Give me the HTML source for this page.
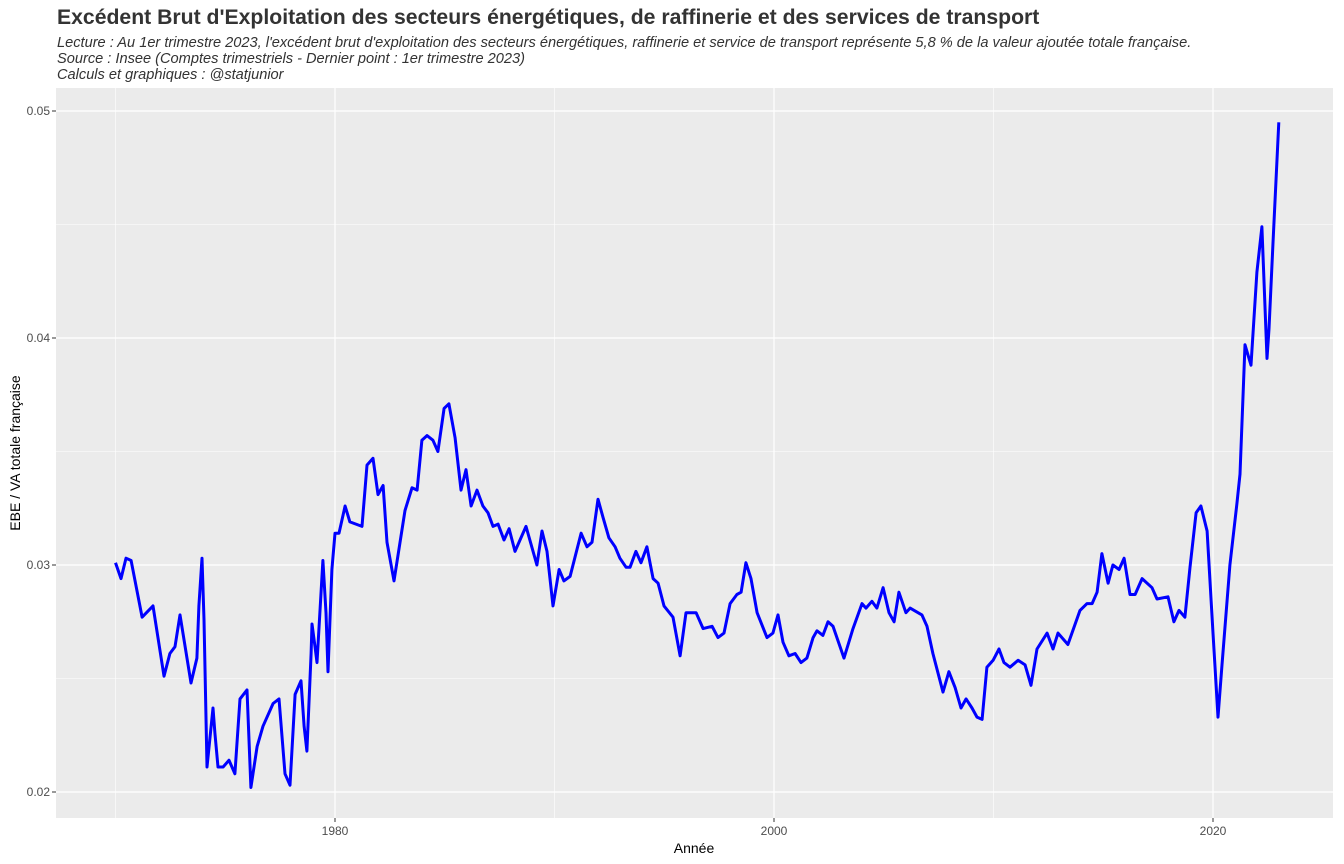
<!DOCTYPE html>
<html><head><meta charset="utf-8"><style>
body{margin:0;background:#fff;}
svg{display:block;font-family:"Liberation Sans",Arial,sans-serif;}
</style></head><body>
<svg id="chart" width="1344" height="864" viewBox="0 0 1344 864" xmlns="http://www.w3.org/2000/svg">
<rect width="1344" height="864" fill="#fff"/>
<text x="57" y="24" font-size="21.2" font-weight="bold" fill="#333">Excédent Brut d'Exploitation des secteurs énergétiques, de raffinerie et des services de transport</text>
<text x="57" y="47" font-size="14.6" font-style="italic" fill="#333">Lecture : Au 1er trimestre 2023, l'excédent brut d'exploitation des secteurs énergétiques, raffinerie et service de transport représente 5,8 % de la valeur ajoutée totale française.</text>
<text x="57" y="63" font-size="14.6" font-style="italic" fill="#333">Source : Insee (Comptes trimestriels - Dernier point : 1er trimestre 2023)</text>
<text x="57" y="79" font-size="14.6" font-style="italic" fill="#333">Calculs et graphiques : @statjunior</text>
<rect x="56" y="88" width="1277" height="730" fill="#ebebeb"/>
<g id="grid"></g>
<g id="axes"></g>
<path id="line" fill="none" stroke="#0000ff" stroke-width="3" stroke-linejoin="round"/>
<text x="694" y="853" font-size="14" text-anchor="middle" fill="#000">Année</text>
<text transform="translate(20,453) rotate(-90)" font-size="14" text-anchor="middle" fill="#000">EBE / VA totale française</text>
</svg>
<script>
const years = [1970,1970.25,1970.48,1970.71,1971.21,1971.71,1972.21,1972.48,1972.71,1972.94,1973.44,1973.71,1973.8,1973.94,1974.03,1974.17,1974.44,1974.53,1974.67,1974.9,1975.17,1975.44,1975.67,1975.99,1976.17,1976.45,1976.72,1977.18,1977.45,1977.72,1977.95,1978.18,1978.45,1978.59,1978.72,1978.91,1978.95,1979.09,1979.18,1979.45,1979.59,1979.68,1979.86,1980,1980.18,1980.46,1980.68,1981.23,1981.46,1981.73,1981.96,1982.19,1982.37,1982.69,1983.19,1983.51,1983.74,1983.96,1984.19,1984.46,1984.69,1984.97,1985.19,1985.47,1985.74,1985.97,1986.2,1986.47,1986.74,1986.97,1987.2,1987.43,1987.7,1987.93,1988.2,1988.7,1989.2,1989.43,1989.66,1989.93,1990.21,1990.43,1990.71,1991.21,1991.48,1991.71,1991.98,1992.21,1992.48,1992.76,1992.98,1993.26,1993.44,1993.71,1993.94,1994.21,1994.49,1994.72,1994.99,1995.4,1995.72,1995.99,1996.45,1996.77,1997.18,1997.45,1997.72,1998,1998.31,1998.5,1998.72,1998.95,1999.23,1999.68,1999.95,2000.18,2000.41,2000.68,2000.96,2001.23,2001.5,2001.78,2001.96,2002.23,2002.46,2002.69,2003.19,2003.6,2004.01,2004.19,2004.46,2004.69,2004.97,2005.24,2005.47,2005.69,2006.01,2006.2,2006.74,2006.97,2007.24,2007.7,2007.97,2008.25,2008.52,2008.75,2009.02,2009.25,2009.48,2009.7,2009.98,2010.25,2010.48,2010.75,2011.12,2011.44,2011.71,2011.98,2012.44,2012.71,2012.94,2013.39,2013.94,2014.26,2014.49,2014.72,2014.94,2015.22,2015.44,2015.72,2015.95,2016.22,2016.45,2016.77,2017.22,2017.45,2017.95,2018.22,2018.45,2018.72,2018.95,2019.23,2019.45,2019.73,2020,2020.23,2020.41,2020.77,2021.09,2021.23,2021.46,2021.73,2022,2022.23,2022.46,2022.55,2022.73,2023];
const values = [0.0301,0.0294,0.0303,0.0302,0.0277,0.0282,0.0251,0.0261,0.0264,0.0278,0.0248,0.0259,0.0282,0.0303,0.0276,0.0211,0.0237,0.0226,0.0211,0.0211,0.0214,0.0208,0.0241,0.0245,0.0202,0.0220,0.0229,0.0239,0.0241,0.0208,0.0203,0.0243,0.0249,0.0229,0.0218,0.0261,0.0274,0.0264,0.0257,0.0302,0.0279,0.0253,0.0298,0.0314,0.0314,0.0326,0.0319,0.0317,0.0344,0.0347,0.0331,0.0335,0.0310,0.0293,0.0324,0.0334,0.0333,0.0355,0.0357,0.0355,0.0350,0.0369,0.0371,0.0356,0.0333,0.0342,0.0326,0.0333,0.0326,0.0323,0.0317,0.0318,0.0311,0.0316,0.0306,0.0317,0.0300,0.0315,0.0306,0.0282,0.0298,0.0293,0.0295,0.0314,0.0308,0.0310,0.0329,0.0321,0.0312,0.0308,0.0303,0.0299,0.0299,0.0306,0.0301,0.0308,0.0294,0.0292,0.0282,0.0277,0.0260,0.0279,0.0279,0.0272,0.0273,0.0268,0.0270,0.0283,0.0287,0.0288,0.0301,0.0294,0.0279,0.0268,0.0270,0.0278,0.0266,0.0260,0.0261,0.0257,0.0259,0.0268,0.0271,0.0269,0.0275,0.0273,0.0259,0.0272,0.0283,0.0281,0.0284,0.0281,0.0290,0.0279,0.0275,0.0288,0.0279,0.0281,0.0278,0.0273,0.0261,0.0244,0.0253,0.0246,0.0237,0.0241,0.0237,0.0233,0.0232,0.0255,0.0258,0.0263,0.0257,0.0255,0.0258,0.0256,0.0247,0.0263,0.0270,0.0263,0.0270,0.0265,0.0280,0.0283,0.0283,0.0288,0.0305,0.0292,0.0300,0.0298,0.0303,0.0287,0.0287,0.0294,0.0290,0.0285,0.0286,0.0275,0.0280,0.0277,0.0299,0.0323,0.0326,0.0315,0.0270,0.0233,0.0256,0.0300,0.0327,0.0340,0.0397,0.0388,0.0429,0.0449,0.0391,0.0404,0.0441,0.0495];
const yTicks = [0.02,0.03,0.04,0.05];
const yTickLabels = ["0.02","0.03","0.04","0.05"];
const xTicks = [1980,2000,2020];
const xTickLabels = ["1980","2000","2020"];

const NS="http://www.w3.org/2000/svg";
const X = y => 335 + (y-1980)*(1213-335)/40;
const Y = v => 792 - (v-0.02)*(792-111)/0.03;
const grid=document.getElementById('grid'), axes=document.getElementById('axes');
function mk(tag,attrs,parent){const e=document.createElementNS(NS,tag);for(const k in attrs)e.setAttribute(k,attrs[k]);parent.appendChild(e);return e;}
for(let v=0.015; v<=0.0551; v+=0.01){const y=Y(v); if(y<88||y>818)continue;
  const l=mk('line',{x1:56,x2:1333,y1:y,y2:y,stroke:'#fff','stroke-width':0.6},grid);
  
  }
for(let yr=1970; yr<=2030; yr+=20){const x=X(yr); if(x<56||x>1333)continue;
  const l=mk('line',{x1:x,x2:x,y1:88,y2:818,stroke:'#fff','stroke-width':0.6},grid);
  
  }
yTicks.forEach((v,i)=>{const y=Y(v);
  const l=mk('line',{x1:56,x2:1333,y1:y,y2:y,stroke:'#fff','stroke-width':1.2},grid);
  
  
  const t=mk('line',{x1:52,x2:56,y1:y,y2:y,stroke:'#333','stroke-width':1},axes);
  
  
  const tx=mk('text',{x:50,y:y+4,'font-size':12,'text-anchor':'end',fill:'#4d4d4d'},axes);
  tx.textContent=yTickLabels[i];
  
  });
xTicks.forEach((yr,i)=>{const x=X(yr);
  const l=mk('line',{x1:x,x2:x,y1:88,y2:818,stroke:'#fff','stroke-width':1.2},grid);
  
  
  const t=mk('line',{x1:x,x2:x,y1:818,y2:822,stroke:'#333','stroke-width':1},axes);
  
  
  const tx=mk('text',{x:x,y:835,'font-size':12,'text-anchor':'middle',fill:'#4d4d4d'},axes);
  tx.textContent=xTickLabels[i];
  
  });
document.getElementById('line').setAttribute('d', years.map((yr,i)=>(i?'L':'M')+X(yr).toFixed(1)+','+Y(values[i]).toFixed(1)).join(''));
</script>
</body></html>
